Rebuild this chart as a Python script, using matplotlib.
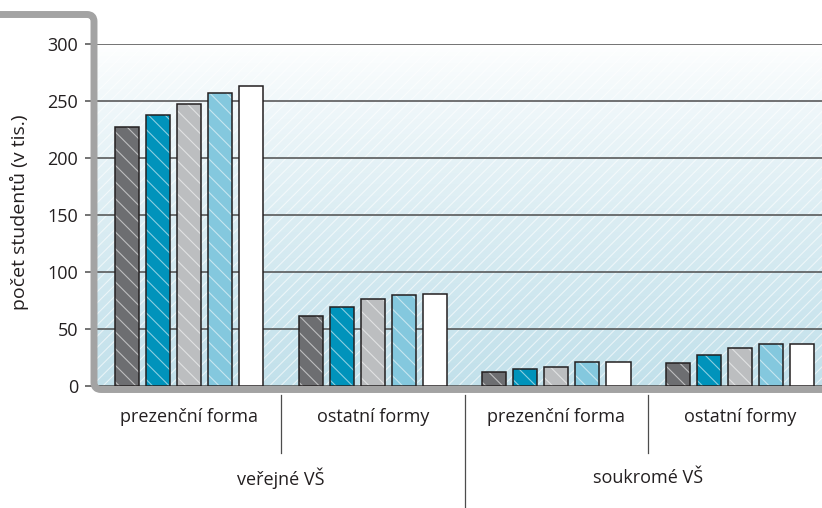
import numpy as np
import matplotlib.pyplot as plt
from matplotlib.path import Path
from matplotlib.patches import PathPatch, Rectangle
from matplotlib.transforms import blended_transform_factory

plt.rcParams['font.family'] = ['Open Sans', 'DejaVu Sans']
plt.rcParams['hatch.linewidth'] = 0.8

# ---- data (thousands of students) ----
groups = ["prezenční forma", "ostatní formy", "prezenční forma", "ostatní formy"]
sectors = ["veřejné VŠ", "soukromé VŠ"]
s1 = [227, 61, 12, 20]
s2 = [238, 69, 15, 27]
s3 = [247, 76, 17, 33]
s4 = [257, 80, 21, 37]
s5 = [263, 81, 21, 37]
series = [s1, s2, s3, s4, s5]
colors = ["#6d6e71", "#0093bb", "#bcbec0", "#84c8de", "#ffffff"]
yticks = [0, 50, 100, 150, 200, 250, 300]
ylabel = "počet studentů (v tis.)"

W, H = 822, 508
fig = plt.figure(figsize=(W / 100, H / 100), dpi=100)

# main axes: x from 95px to right edge, y from 386px (0) to 44px (300)
ax = fig.add_axes([95 / W, (H - 386) / H, (W - 95) / W, (386 - 44) / H])
x = np.arange(len(groups))
xmin = -0.512
xmax = xmin + (W - 95) / 183.7

# background: soft blue gradient (white at top) + white streaks
grad = np.linspace(0, 1, 256) ** 0.8
top = np.array([1.0, 1.0, 1.0])
bot = np.array([0.76, 0.88, 0.92])
img = top + (bot - top) * grad[:, None, None]
ax.imshow(img, extent=(xmin, xmax, 0, 300), origin='upper', aspect='auto', zorder=-3)
ax.add_patch(Rectangle((xmin, 0), xmax - xmin, 300, facecolor='none',
                       edgecolor=(1, 1, 1, 0.6), hatch='///', lw=0, zorder=-2))
ax.set_xlim(xmin, xmax)
ax.set_ylim(0, 300)

ax.set_axisbelow(True)
ax.yaxis.grid(True, color='#4d4d4d', lw=1.1)
ax.set_yticks(yticks)
ax.tick_params(axis='y', length=7.2, width=1.1, color='#4d4d4d', pad=5,
               labelsize=13, labelcolor='#231f20')
ax.set_xticks([])
for sp in ax.spines.values():
    sp.set_visible(False)

# bars
step = 0.1688
width = 0.131
for i, (vals, col) in enumerate(zip(series, colors)):
    pos = x + (i - 2) * step
    ax.bar(pos, vals, width, color=col, lw=0, zorder=2)
    ax.bar(pos, vals, width, color='none', edgecolor=(1, 1, 1, 0.55),
           hatch='\\\\', lw=0, zorder=2.5)
    ax.bar(pos, vals, width, color='none', edgecolor='#231f20', lw=1.1, zorder=3)

# overlay in pixel coordinates for frame and labels
ov = fig.add_axes([0, 0, 1, 1], zorder=5)
ov.set_xlim(0, W)
ov.set_ylim(H, 0)
ov.axis('off')

verts = [(0, 14.5), (87, 14.5), (94, 14.5), (94, 21.5), (94, 382.5),
         (94, 389.5), (101, 389.5), (W + 5, 389.5)]
codes = [Path.MOVETO, Path.LINETO, Path.CURVE3, Path.CURVE3, Path.LINETO,
         Path.CURVE3, Path.CURVE3, Path.LINETO]
ov.add_patch(PathPatch(Path(verts, codes), facecolor='none', edgecolor='#a3a3a3',
                       lw=5.0, capstyle='butt', joinstyle='round'))

trans = blended_transform_factory(ax.transData, ov.transData)
for xi in [0.5, 2.5]:
    ov.plot([xi, xi], [395, 453], color='#4d4d4d', lw=0.9, transform=trans)
ov.plot([1.5, 1.5], [395, 508], color='#4d4d4d', lw=0.9, transform=trans)

for i, g in enumerate(groups):
    ov.text(i, 417, g, transform=trans, ha='center', va='center',
            fontsize=13, color='#231f20')
for i, s in enumerate(sectors):
    ov.text(0.5 + 2 * i, 478, s, transform=trans, ha='center', va='center',
            fontsize=13, color='#231f20')

ov.text(19, 212, ylabel, rotation=90, ha='center', va='center',
        fontsize=14, color='#231f20')

fig.savefig("out.png", dpi=100)
